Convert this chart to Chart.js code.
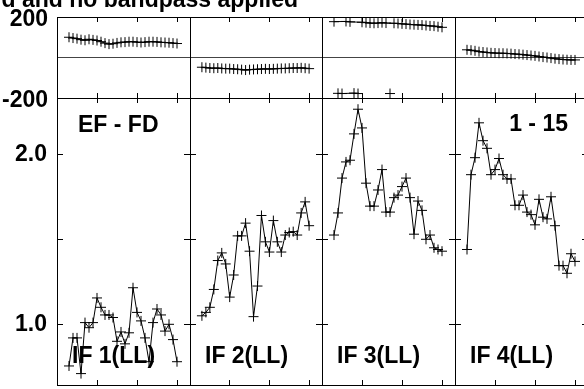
<!DOCTYPE html>
<html>
<head>
<meta charset="utf-8">
<script src="https://cdn.jsdelivr.net/npm/chart.js@4.4.0/dist/chart.umd.min.js"></script>
<style>
html, body { margin: 0; padding: 0; background: #fff; overflow: hidden; width: 584px; height: 389px; }
#wrap { position: relative; width: 584px; height: 389px; overflow: hidden; }
#wrap canvas { position: absolute; left: 0; top: 0; }
</style>
</head>
<body>
<div id="wrap"></div>
<script>
// --- values: channels 3-30, baseline EF-FD, LL ---
const CHANNELS = [3, 4, 5, 6, 7, 8, 9, 10, 11, 12, 13, 14, 15, 16, 17, 18, 19, 20, 21, 22, 23, 24, 25, 26, 27, 28, 29, 30];
const CHANNEL_TICKS = [10, 20, 30];
const PHASE_TICKS = [-200, 0, 200];
const AMP_TICKS = [1.0, 1.5, 2.0];

// phase in degrees
const PHASE_IF1 = [100, 96, 93, 88, 85, 90, 87, 84, 78, 71, 66, 68, 72, 75, 76, 78, 78, 76, 74, 76, 78, 78, 77, 75, 74, 73, 71, 69];
const PHASE_IF2 = [-48, -50, -52, -53, -52, -54, -55, -55, -57, -58, -60, -62, -60, -59, -58, -57, -56, -57, -56, -55, -54, -54, -53, -52, -52, -51, -53, -55];
const PHASE_IF3 = [177, -177, -178, 178, 176, -176, -178, 174, 172, 170, 169, 170, 172, 170, -178, 169, 168, 166, 165, 163, 162, 161, 160, 158, 156, 155, 152, 149];
const PHASE_IF4 = [38, 36, 33, 29, 27, 25, 23, 22, 21, 21, 20, 19, 17, 16, 14, 12, 10, 8, 5, 2, 0, -3, -6, -8, -10, -11, -12, -12];

// amplitude
const AMP_IF1 = [0.755, 0.92, 0.92, 0.71, 1.01, 0.98, 1.01, 1.155, 1.10, 1.055, 1.055, 1.04, 0.90, 0.955, 0.885, 0.95, 1.215, 1.07, 1.02, 0.92, 0.78, 1.01, 1.09, 1.055, 0.96, 1.00, 0.91, 0.78];
const AMP_IF2 = [1.05, 1.07, 1.10, 1.205, 1.375, 1.42, 1.355, 1.16, 1.29, 1.52, 1.52, 1.595, 1.43, 1.045, 1.225, 1.64, 1.485, 1.425, 1.61, 1.485, 1.425, 1.525, 1.54, 1.545, 1.525, 1.655, 1.72, 1.58];
const AMP_IF3 = [1.525, 1.655, 1.86, 1.955, 1.965, 2.12, 2.265, 2.155, 1.83, 1.695, 1.695, 1.79, 1.91, 1.66, 1.66, 1.745, 1.76, 1.81, 1.86, 1.745, 1.53, 1.725, 1.67, 1.50, 1.525, 1.45, 1.44, 1.43];
const AMP_IF4 = [1.44, 1.88, 1.98, 2.185, 2.08, 2.035, 1.88, 1.91, 1.975, 1.88, 1.855, 1.855, 1.70, 1.70, 1.76, 1.66, 1.645, 1.585, 1.735, 1.63, 1.62, 1.75, 1.58, 1.345, 1.345, 1.30, 1.415, 1.37];

const IF_LABELS = ['IF 1(LL)', 'IF 2(LL)', 'IF 3(LL)', 'IF 4(LL)'];
const BASELINE_LABEL = 'EF - FD';
const TIME_LABEL = '1 - 15';
const TITLE_TEXT = 'd and no bandpass applied';

// --- layout (page pixels) ---
const W = 600, H = 389;
const COL_EDGES = [57, 190, 322, 455, 588];
const PHASE_TOP = 17, SPLIT_Y = 98, AMP_BOTTOM = 385;
const FONT = "bold 23px 'Liberation Sans', Arial, sans-serif";

Chart.defaults.font.family = "'Liberation Sans', Arial, sans-serif";
Chart.defaults.font.size = 23;
Chart.defaults.font.weight = 'bold';
Chart.defaults.color = '#000';

// plain text drawn onto the canvas at page coordinates
const panelText = {
    id: 'panelText',
    afterDraw(chart, args, opts) {
        const ctx = chart.ctx;
        ctx.save();
        ctx.fillStyle = '#000';
        ctx.font = FONT;
        ctx.textBaseline = 'alphabetic';
        (opts.items || []).forEach(t => {
            ctx.textAlign = t.align || 'left';
            ctx.fillText(t.text, t.x, t.y);
        });
        ctx.restore();
    }
};

// axes take a fixed room (0 unless they carry labels); the chart area comes from the padding
function fixedSize(room) {
    return scale => {
        if (scale.isHorizontal()) scale.height = 0; else scale.width = room;
        scale.paddingTop = scale.paddingBottom = scale.paddingLeft = scale.paddingRight = 0;
    };
}

function xAxis(position) {
    return {
        type: 'linear', axis: 'x', position: position, min: 0, max: 33.25,
        afterBuildTicks: s => { s.ticks = CHANNEL_TICKS.map(v => ({ value: v })); },
        afterFit: fixedSize(0),
        ticks: { display: false },
        grid: { drawOnChartArea: false, drawTicks: true, tickLength: -5, color: '#000', lineWidth: 1 },
        border: { display: true, color: '#000', width: 1 }
    };
}

function phaseAxis(position, room) {
    return {
        type: 'linear', axis: 'y', position: position, min: -200, max: 200,
        afterBuildTicks: s => { s.ticks = PHASE_TICKS.map(v => ({ value: v })); },
        afterFit: fixedSize(room),
        ticks: {
            display: room > 0, autoSkip: false, padding: 9, labelOffset: 3,
            callback: v => (v === 0 ? '' : String(v))
        },
        grid: {
            display: position === 'left', drawTicks: false, drawOnChartArea: true,
            color: c => (c.tick && c.tick.value === 0 ? '#444' : 'rgba(0,0,0,0)')
        },
        border: { display: true, color: '#000', width: 1 }
    };
}

function ampAxis(position, room) {
    return {
        type: 'linear', axis: 'y', position: position, min: 0.643, max: 2.331,
        afterBuildTicks: s => { s.ticks = AMP_TICKS.map(v => ({ value: v })); },
        afterFit: fixedSize(room),
        ticks: {
            display: room > 0, autoSkip: false, padding: 16,
            callback: v => (v === 1.5 ? '' : v.toFixed(1))
        },
        grid: { drawOnChartArea: false, drawTicks: true, tickLength: -6, color: '#000' },
        border: { display: true, color: '#000', width: 1 }
    };
}

function series(points, extra) {
    return Object.assign({
        data: points,
        showLine: true, borderColor: '#000', borderWidth: 1,
        pointStyle: 'cross', pointRadius: 5, pointHoverRadius: 5,
        pointBorderColor: '#000', pointBorderWidth: 1,
        tension: 0, fill: false
    }, extra || {});
}

function toPoints(values, keep) {
    const pts = [];
    CHANNELS.forEach((c, i) => {
        if (!keep || keep(values[i])) pts.push({ x: c, y: values[i] });
    });
    return pts;
}

function makeChart(rect, room, yLeft, yRight, datasets, texts) {
    const canvas = document.createElement('canvas');
    canvas.width = W;
    canvas.height = H;
    document.getElementById('wrap').appendChild(canvas);
    return new Chart(canvas, {
        type: 'line',
        data: { datasets: datasets },
        options: {
            responsive: false, animation: false, events: [],
            layout: {
                autoPadding: false,
                padding: { left: rect.left - room, top: rect.top, right: W - rect.right, bottom: H - rect.bottom }
            },
            scales: { x: xAxis('bottom'), xTop: xAxis('top'), y: yLeft, yRight: yRight },
            plugins: {
                legend: { display: false },
                tooltip: { enabled: false },
                panelText: { items: texts }
            }
        },
        plugins: [panelText]
    });
}

const PHASES = [PHASE_IF1, PHASE_IF2, PHASE_IF3, PHASE_IF4];
const AMPS = [AMP_IF1, AMP_IF2, AMP_IF3, AMP_IF4];

PHASES.forEach((phase, i) => {
    const left = COL_EDGES[i], right = COL_EDGES[i + 1];
    const room = i === 0 ? left : 0;

    // phase panel; points wrapped past +-180 are drawn as a separate branch
    let phaseSets;
    if (phase.some(v => v > 170) && phase.some(v => v < -170)) {
        phaseSets = [
            series(toPoints(phase, v => v > 0), { spanGaps: 3.5 }),
            series(toPoints(phase, v => v < 0), { spanGaps: 3.5 })
        ];
    } else {
        phaseSets = [series(toPoints(phase))];
    }
    const phaseTexts = i === 0 ? [{ text: TITLE_TEXT, x: 298, y: 7, align: 'right' }] : [];
    makeChart({ left: left, right: right, top: PHASE_TOP, bottom: SPLIT_Y }, room,
        phaseAxis('left', room), phaseAxis('right', 0), phaseSets, phaseTexts);

    // amplitude panel
    const ampTexts = [{ text: IF_LABELS[i], x: left + 15, y: 363 }];
    if (i === 0) ampTexts.push({ text: BASELINE_LABEL, x: 78, y: 132 });
    if (i === 3) ampTexts.push({ text: TIME_LABEL, x: 568, y: 131, align: 'right' });
    makeChart({ left: left, right: right, top: SPLIT_Y, bottom: AMP_BOTTOM }, room,
        ampAxis('left', room), ampAxis('right', 0), [series(toPoints(AMPS[i]))], ampTexts);
});
</script>
</body>
</html>
